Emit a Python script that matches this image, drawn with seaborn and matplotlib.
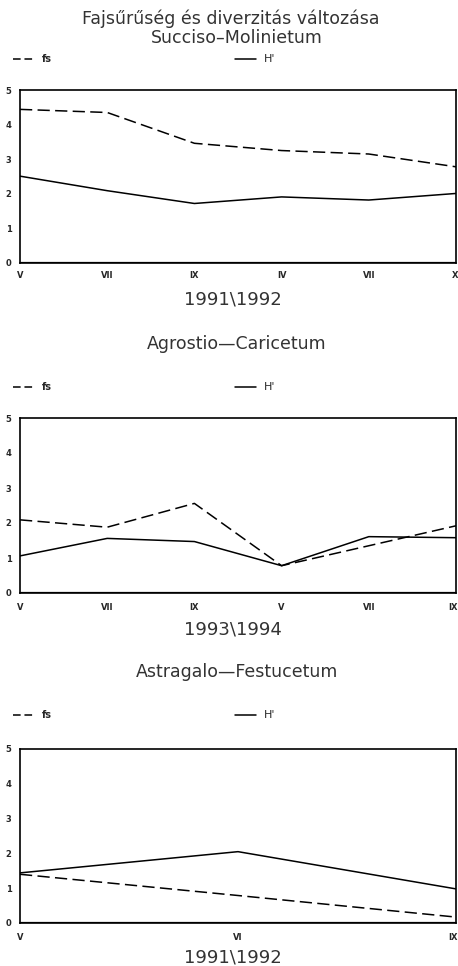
import numpy as np
import pandas as pd
import seaborn as sns
import matplotlib.pyplot as plt
from matplotlib.lines import Line2D

sns.set_style("white")
plt.rcParams['font.family'] = ['DejaVu Sans']

# Succiso-Molinietum, 1991\1992
months_1 = ["V", "VII", "IX", "IV", "VII", "X"]
fs_1 = [4.44, 4.35, 3.46, 3.25, 3.15, 2.78]
h_1 = [2.51, 2.09, 1.72, 1.91, 1.82, 2.01]

# Agrostio-Caricetum, 1993\1994
months_2 = ["V", "VII", "IX", "V", "VII", "IX"]
fs_2 = [2.09, 1.88, 2.56, 0.78, 1.35, 1.92]
h_2 = [1.06, 1.56, 1.47, 0.78, 1.61, 1.58]

# Astragalo-Festucetum, 1991\1992
months_3 = ["V", "VI", "IX"]
fs_3 = [1.40, 0.79, 0.17]
h_3 = [1.44, 2.05, 0.98]

yticks = [0, 1, 2, 3, 4, 5]

W, H = 458, 966
fig = plt.figure(figsize=(W / 100, H / 100), dpi=100)
text_color = "#333333"
dash = (8, 3.5)
legend_dash = (5, 2.5)

panels = [
    dict(months=months_1, fs=fs_1, h=h_1, top=90, bottom=263,
         title="Succiso\u2013Molinietum", title_y=38, legend_y=59,
         xlabel="1991\\1992", tick_y=276, xlabel_y=299),
    dict(months=months_2, fs=fs_2, h=h_2, top=418, bottom=593,
         title="Agrostio\u2014Caricetum", title_y=344, legend_y=387,
         xlabel="1993\\1994", tick_y=608, xlabel_y=630),
    dict(months=months_3, fs=fs_3, h=h_3, top=749, bottom=923,
         title="Astragalo\u2014Festucetum", title_y=672, legend_y=715,
         xlabel="1991\\1992", tick_y=937, xlabel_y=957),
]

fig.text(231 / W, 1 - 19 / H, "Fajsűrűség és diverzitás változása",
         ha="center", va="center", fontsize=12.5, color=text_color)

left, right = 20, 456
for p in panels:
    ax = fig.add_axes([left / W, 1 - p["bottom"] / H,
                       (right - left) / W, (p["bottom"] - p["top"]) / H])
    n = len(p["months"])
    df = pd.DataFrame({
        "pos": list(range(n)) * 2,
        "value": p["fs"] + p["h"],
        "series": ["fs"] * n + ["H'"] * n,
    })
    sns.lineplot(data=df, x="pos", y="value", style="series",
                 dashes={"fs": dash, "H'": ""}, color="black",
                 linewidth=1.1, ax=ax, legend=False)
    ax.set_xlim(0, n - 1)
    ax.set_ylim(0, 5)
    ax.set_yticks(yticks)
    ax.set_yticklabels([str(t) for t in yticks], fontsize=6, fontweight="bold")
    ax.set_xticks(range(n))
    ax.set_xticklabels([])
    ax.tick_params(axis="y", direction="in", length=3, width=1, pad=6)
    ax.tick_params(axis="x", direction="in", length=3, width=1)
    ax.set_xlabel("")
    ax.set_ylabel("")
    for s in ax.spines.values():
        s.set_visible(True)
        s.set_color("black")
        s.set_linewidth(1.2)
    ax.axhline(0, color="black", linewidth=1.6)

    # month labels under the axis
    for i, m in enumerate(p["months"]):
        x = left + i * (right - left) / (n - 1)
        ha = "center"
        if i == n - 1:
            x, ha = 458, "right"
        fig.text(x / W, 1 - p["tick_y"] / H, m, ha=ha, va="center",
                 fontsize=6, fontweight="bold")
    fig.text(233 / W, 1 - p["xlabel_y"] / H, p["xlabel"], ha="center",
             va="center", fontsize=13, color=text_color)
    fig.text(237 / W, 1 - p["title_y"] / H, p["title"], ha="center",
             va="center", fontsize=12.5, color=text_color)

    # legend row
    handles = [Line2D([], [], color="black", linewidth=1.1, dashes=legend_dash),
               Line2D([], [], color="black", linewidth=1.1)]
    leg = fig.legend(handles, ["fs", "H'"], loc="center left",
                     bbox_to_anchor=(4 / W, 1 - p["legend_y"] / H), ncol=2,
                     frameon=False, fontsize=7, handlelength=2.2,
                     handletextpad=0.8, columnspacing=18.8)
    leg.get_texts()[0].set_fontweight("bold")
    leg.get_texts()[1].set_fontsize(8)

fig.savefig("out.png", dpi=100)
